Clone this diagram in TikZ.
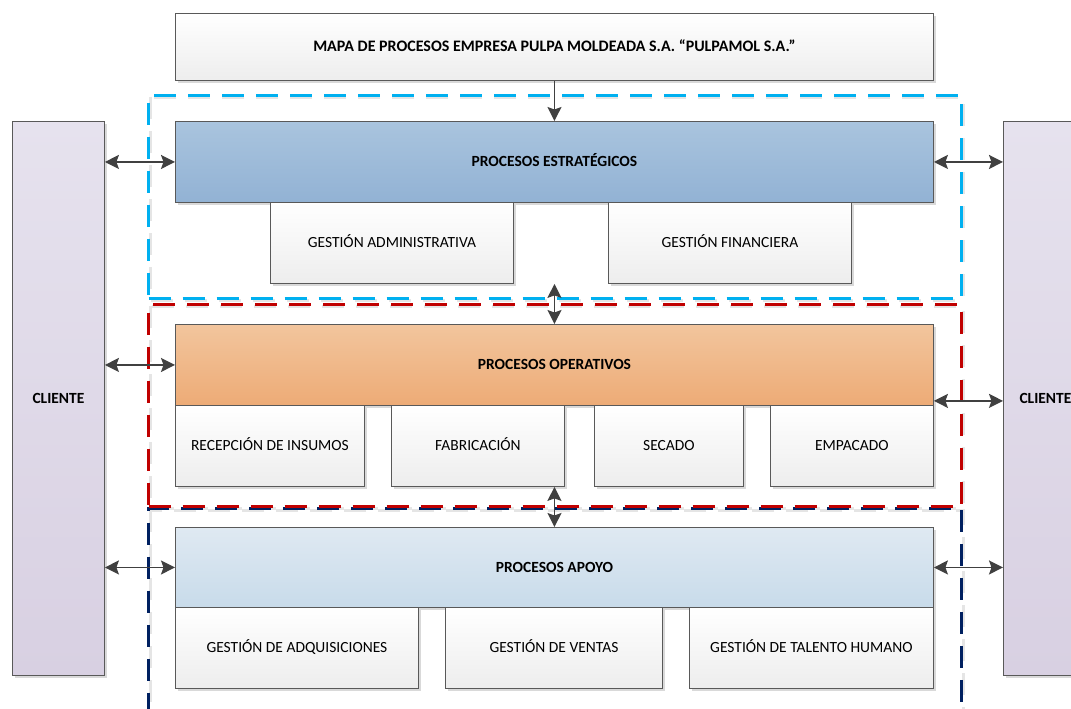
\documentclass[tikz,border=0pt]{standalone}
\usepackage{fontspec}
\setmainfont{Carlito}
\usetikzlibrary{arrows.meta,shadows,calc}

\definecolor{lineGray}{HTML}{595959}
\definecolor{arrowGray}{HTML}{404040}
\definecolor{estTop}{HTML}{A9C4DE}
\definecolor{estBot}{HTML}{92B2D4}
\definecolor{opeTop}{HTML}{F2C59D}
\definecolor{opeBot}{HTML}{EDAB76}
\definecolor{apoTop}{HTML}{DFE9F2}
\definecolor{apoBot}{HTML}{C8DBEA}
\definecolor{cliTop}{HTML}{E6E2EE}
\definecolor{cliBot}{HTML}{D8D0E2}
\definecolor{zoneCyan}{HTML}{00B0F0}
\definecolor{zoneRed}{HTML}{C00000}
\definecolor{zoneNavy}{HTML}{002060}

\begin{document}
\begin{tikzpicture}[x=1pt,y=-1pt,
  font=\fontsize{15.5}{18}\selectfont,
  frame/.style={draw=lineGray, line width=0.9pt, inner sep=0pt, anchor=north west,
    align=center, text height=10pt, text depth=0pt,
    drop shadow={shadow xshift=2.5pt, shadow yshift=-2.5pt, opacity=0.15, fill=black}},
  subbox/.style={frame, top color=white, bottom color=black!7},
  headbox/.style={frame, font=\fontsize{15.5}{18}\selectfont\bfseries},
  clientbox/.style={frame, top color=cliTop, bottom color=cliBot,
    font=\fontsize{15.5}{18}\selectfont\bfseries},
  zone/.style={draw, line width=3pt, dash pattern=on 22pt off 12pt,
    inner sep=0pt, anchor=north west},
  zoneshade/.style={draw=black!10, line width=3pt, dash pattern=on 22pt off 12pt},
  tip/.tip={Stealth[length=14pt,width=14pt,inset=2.5pt]},
  biarrow/.style={draw=arrowGray, line width=1.7pt, tip-tip},
  onearrow/.style={draw=arrowGray, line width=1.5pt, -tip},
]
\fill[white] (0,0) rectangle (1071,709);
\clip (0,0) rectangle (1071,709);

% faint shadows under the dashed zone outlines
\draw[zoneshade] (150,97) rectangle (963,300);
\draw[zoneshade] (150,306) rectangle (963,508);
\draw[zoneshade] (150,510) rectangle (963,740);

% dashed zones
\node[zone, draw=zoneCyan, minimum width=813pt, minimum height=203pt] (zonaE) at (147,94) {};
\node[zone, draw=zoneNavy, minimum width=813pt, minimum height=230pt] (zonaA) at (147,507) {};
\node[zone, draw=zoneRed, minimum width=813pt, minimum height=202pt] (zonaO) at (147,303) {};

% title
\node[headbox, top color=white, bottom color=black!7, minimum width=758pt, minimum height=67pt,
  font=\fontsize{16}{19}\selectfont\bfseries]
  (titulo) at (175,13) {MAPA DE PROCESOS EMPRESA PULPA MOLDEADA S.A. “PULPAMOL S.A.”};

% clients
\node[clientbox, minimum width=92pt, minimum height=554pt] (cliL) at (12,121) {CLIENTE};
\node[clientbox, minimum width=84pt, minimum height=554pt] (cliR) at (1003,121) {CLIENTE};

% strategic processes
\node[headbox, top color=estTop, bottom color=estBot, minimum width=758pt, minimum height=81pt]
  (est) at (175,121) {PROCESOS ESTRATÉGICOS};
\node[subbox, minimum width=243pt, minimum height=81pt] (ga) at (270,202) {GESTIÓN ADMINISTRATIVA};
\node[subbox, minimum width=243pt, minimum height=81pt] (gf) at (608,202) {GESTIÓN FINANCIERA};

% operative processes
\node[headbox, top color=opeTop, bottom color=opeBot, minimum width=758pt, minimum height=81pt]
  (ope) at (175,324) {PROCESOS OPERATIVOS};
\node[subbox, minimum width=189pt, minimum height=81pt] (rec) at (175,405) {RECEPCIÓN DE INSUMOS};
\node[subbox, minimum width=173pt, minimum height=81pt] (fab) at (391,405) {FABRICACIÓN};
\node[subbox, minimum width=149pt, minimum height=81pt] (sec) at (594,405) {SECADO};
\node[subbox, minimum width=163pt, minimum height=81pt] (emp) at (770,405) {EMPACADO};

% support processes
\node[headbox, top color=apoTop, bottom color=apoBot, minimum width=758pt, minimum height=80pt]
  (apo) at (175,527) {PROCESOS APOYO};
\node[subbox, minimum width=243pt, minimum height=81pt] (adq) at (175,607) {GESTIÓN DE ADQUISICIONES};
\node[subbox, minimum width=217pt, minimum height=81pt] (ven) at (445,607) {GESTIÓN DE VENTAS};
\node[subbox, minimum width=244pt, minimum height=81pt] (tal) at (689,607) {GESTIÓN DE TALENTO HUMANO};

% connectors
\draw[onearrow] (titulo.south) -- (est.north);
\draw[biarrow] (ga.south -| ope.north) -- (ope.north);
\draw[biarrow] (rec.south -| apo.north) -- (apo.north);

\draw[biarrow] (cliL.east |- est.west) -- (est.west);
\draw[biarrow] (cliL.east |- ope.west) -- (ope.west);
\draw[biarrow] (cliL.east |- apo.west) -- (apo.west);

\coordinate (opeR) at ($(ope.south east)+(0,-5)$);
\draw[biarrow] (est.east) -- (est.east -| cliR.west);
\draw[biarrow] (opeR) -- (opeR -| cliR.west);
\draw[biarrow] (apo.east) -- (apo.east -| cliR.west);
\end{tikzpicture}
\end{document}
